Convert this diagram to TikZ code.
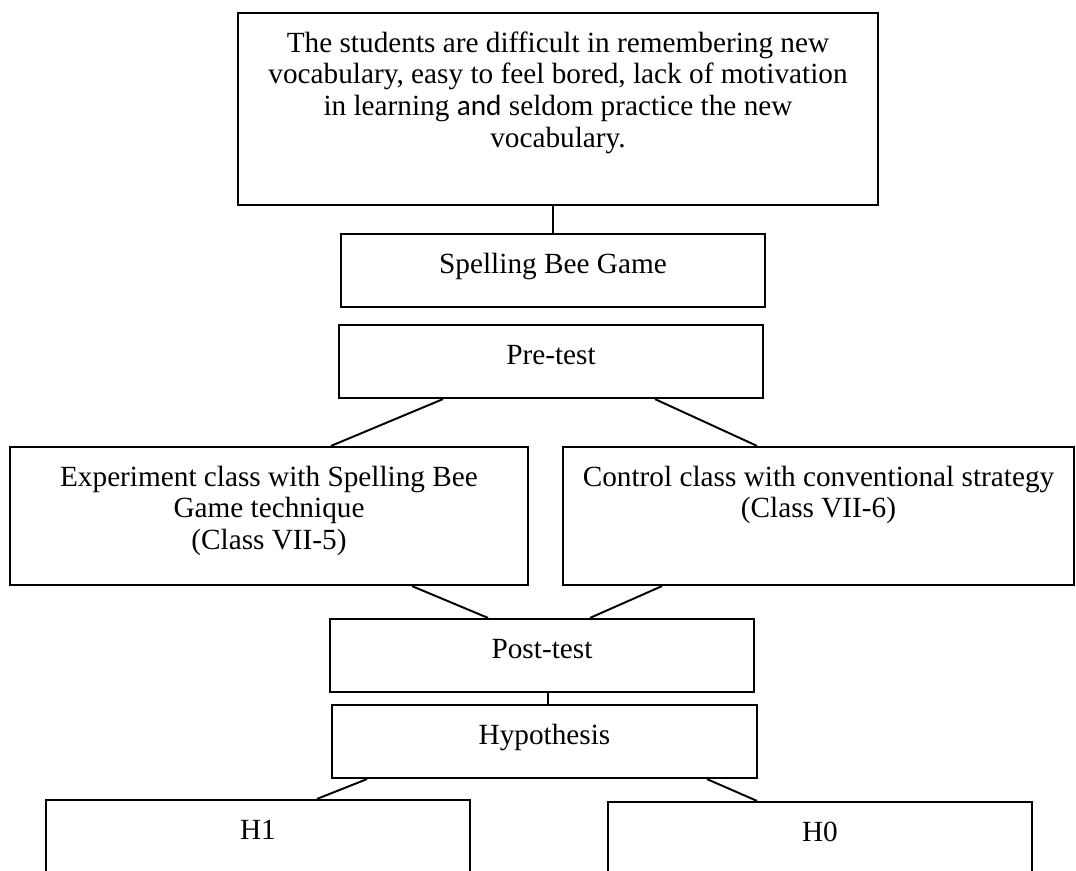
\documentclass[tikz,border=0pt]{standalone}
\usepackage{fontspec}
\setmainfont{Liberation Serif}
\newfontfamily\andfont{Carlito}
\usepackage{tikz}
\usetikzlibrary{positioning,calc}

\newlength{\pxu}
\setlength{\pxu}{0.41pt}
\newcommand{\boxtext}[3]{\parbox[c][#2][t]{#1}{\centering\rule{0pt}{39\pxu}#3}}

\begin{document}
\begin{tikzpicture}[x=0.41pt, y=-0.41pt,
		box/.style={draw, line width=0.9pt, inner sep=0pt, font=\fontsize{12}{13.1}\selectfont},
		link/.style={line width=0.8pt}]
	\useasboundingbox (0,0) rectangle (1076,871);
	\clip (0,0) rectangle (1076,871);
	\node[box] (problem) at (558,109) {\boxtext{640\pxu}{192\pxu}{The students are difficult in remembering new\\ vocabulary, easy to feel bored, lack of motivation\\ in learning {\andfont and} seldom practice the new\\ vocabulary.}};
	\node[box] (game) at (553,270.5) {\boxtext{424\pxu}{73\pxu}{Spelling Bee Game}};
	\node[box] (pretest) at (551,361.5) {\boxtext{424\pxu}{73\pxu}{Pre-test}};
	\node[box] (experiment) at (269,516) {\boxtext{518\pxu}{138\pxu}{Experiment class with Spelling Bee\\ Game technique\\ (Class VII-5)}};
	\node[box] (control) at (818.5,516) {\boxtext{511\pxu}{138\pxu}{Control class with conventional strategy\\ (Class VII-6)}};
	\node[box] (posttest) at (542,655.5) {\boxtext{424\pxu}{73\pxu}{Post-test}};
	\node[box] (hypothesis) at (544.5,741.5) {\boxtext{425\pxu}{73\pxu}{Hypothesis}};
	\node[box] (hone) at (258,850) {\boxtext{424\pxu}{100\pxu}{H1}};
	\node[box] (hzero) at (820,852) {\boxtext{424\pxu}{100\pxu}{H0}};

	\draw[link] (game.north |- problem.south) -- (game.north);
	\draw[link] ($ (pretest.south) +(-108,0) $) -- ($ (experiment.north) +(62,0) $);
	\draw[link] ($ (pretest.south) +(104,0) $) -- ($ (control.north) +(-61.5,0) $);
	\draw[link] ($ (experiment.south) +(143,0) $) -- ($ (posttest.north) +(-54,0) $);
	\draw[link] ($ (control.south) +(-156.5,0) $) -- ($ (posttest.north) +(48,0) $);
	\draw[link] ($ (posttest.south) +(6,0) $) -- ($ (hypothesis.north) +(3.5,0) $);
	\draw[link] ($ (hypothesis.south) +(-177.5,0) $) -- ($ (hone.north) +(59,0) $);
	\draw[link] ($ (hypothesis.south) +(162.5,0) $) -- ($ (hzero.north) +(-63,0) $);
\end{tikzpicture}
\end{document}
